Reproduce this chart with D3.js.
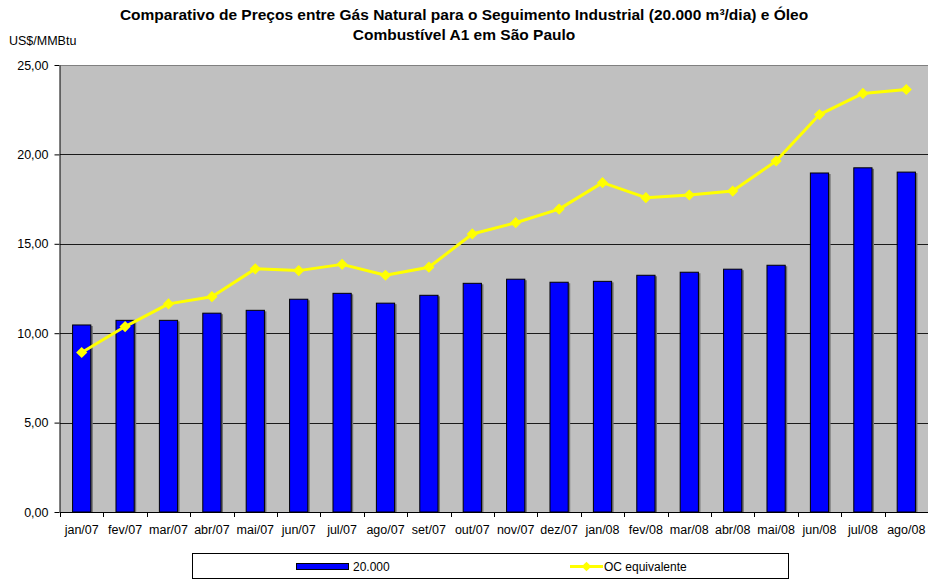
<!DOCTYPE html>
<html>
<head>
<meta charset="utf-8">
<script src="https://cdn.jsdelivr.net/npm/d3@7"></script>
<style>
  body { margin: 0; background: #fff; }
  svg { display: block; font-family: "Liberation Sans", Arial, sans-serif; }
</style>
</head>
<body>
<div id="chart"></div>
<script>
// dados
const months = ['jan/07', 'fev/07', 'mar/07', 'abr/07', 'mai/07', 'jun/07', 'jul/07', 'ago/07', 'set/07', 'out/07',
  'nov/07', 'dez/07', 'jan/08', 'fev/08', 'mar/08', 'abr/08', 'mai/08', 'jun/08', 'jul/08', 'ago/08']
const gas20000 = [10.46, 10.72, 10.72, 11.12, 11.28, 11.9, 12.23, 11.68, 12.12, 12.79,
  13.02, 12.85, 12.9, 13.24, 13.41, 13.58, 13.8, 18.96, 19.25, 19.01]
const ocEquivalente = [8.92, 10.37, 11.64, 12.04, 13.6, 13.5, 13.85, 13.24, 13.69, 15.55,
  16.18, 16.94, 18.42, 17.58, 17.73, 17.95, 19.63, 22.23, 23.41, 23.63]
const yTicks = [0, 5, 10, 15, 20, 25]

const width = 928, height = 581
const margin = { top: 65, right: 0, bottom: 69, left: 60 }
const FONT = '"Liberation Sans", Arial, sans-serif'

const svg = d3.select('#chart').append('svg')
  .attr('width', width)
  .attr('height', height)

const x = d3.scaleBand()
  .domain(months)
  .range([margin.left, width - margin.right])
  .paddingInner(0.58)
  .paddingOuter(0.29)

const y = d3.scaleLinear()
  .domain([0, 25])
  .range([height - margin.bottom, margin.top])

const fmt = v => d3.format('.2f')(v).replace('.', ',')

// fundo da área de plotagem
svg.append('rect')
  .attr('x', margin.left)
  .attr('y', y(25))
  .attr('width', width - margin.right - margin.left)
  .attr('height', y(0) - y(25))
  .attr('fill', '#c0c0c0')

// linhas de grade
svg.append('g')
  .selectAll('line')
  .data(yTicks.filter(d => d > 0))
  .join('line')
  .attr('x1', margin.left)
  .attr('x2', width - margin.right)
  .attr('y1', d => Math.round(y(d)) + 0.5)
  .attr('y2', d => Math.round(y(d)) + 0.5)
  .attr('stroke', d => d === 25 ? '#808080' : '#1a1a1a')
  .attr('stroke-width', 1)

// barras (com sombra)
const step = x.step()
const bars = svg.append('g')
bars.selectAll('rect.shadow')
  .data(months)
  .join('rect')
  .attr('class', 'shadow')
  .attr('x', (d, i) => x(d) + 2)
  .attr('y', (d, i) => y(gas20000[i]) + 1)
  .attr('width', x.bandwidth())
  .attr('height', (d, i) => y(0) - y(gas20000[i]) - 1)
  .attr('fill', '#707070')
bars.selectAll('rect.bar')
  .data(months)
  .join('rect')
  .attr('class', 'bar')
  .attr('x', (d, i) => x(d))
  .attr('y', (d, i) => y(gas20000[i]))
  .attr('width', x.bandwidth())
  .attr('height', (d, i) => y(0) - y(gas20000[i]))
  .attr('fill', '#0000ff')
  .attr('stroke', '#000')
  .attr('stroke-width', 1)

// linha OC equivalente
const cx = d => x(d) + x.bandwidth() / 2
const line = d3.line()
  .x((d, i) => cx(months[i]))
  .y(d => y(d))

svg.append('path')
  .datum(ocEquivalente)
  .attr('d', line)
  .attr('fill', 'none')
  .attr('stroke', '#ffff00')
  .attr('stroke-width', 3)
  .attr('stroke-linejoin', 'round')

svg.append('g')
  .selectAll('path')
  .data(ocEquivalente)
  .join('path')
  .attr('d', d3.symbol(d3.symbolDiamond2, 80))
  .attr('transform', (d, i) => `translate(${cx(months[i])},${y(d)})`)
  .attr('fill', '#ffff00')

// eixo Y
const yAxis = svg.append('g')
  .attr('transform', `translate(${margin.left - 0.5},0)`)
  .call(d3.axisLeft(y).tickValues(yTicks).tickFormat(fmt).tickSize(5).tickSizeOuter(0))
yAxis.select('.domain').attr('stroke', '#000')
yAxis.selectAll('.tick line').attr('stroke', '#000')
yAxis.selectAll('.tick text')
  .attr('x', -11)
  .attr('font-size', 12.5)
  .attr('font-family', FONT)
  .attr('fill', '#000')

// eixo X
const xTickPos = d3.range(months.length + 1).map(i => margin.left + i * step)
const xAxisG = svg.append('g')
xAxisG.append('line')
  .attr('x1', margin.left)
  .attr('x2', width - margin.right)
  .attr('y1', y(0) + 0.5)
  .attr('y2', y(0) + 0.5)
  .attr('stroke', '#000')
xAxisG.selectAll('line.tick')
  .data(xTickPos)
  .join('line')
  .attr('class', 'tick')
  .attr('x1', d => Math.round(d) + 0.5)
  .attr('x2', d => Math.round(d) + 0.5)
  .attr('y1', y(0))
  .attr('y2', y(0) + 5)
  .attr('stroke', '#000')
xAxisG.selectAll('text')
  .data(months)
  .join('text')
  .attr('x', d => cx(d))
  .attr('y', y(0) + 22)
  .attr('text-anchor', 'middle')
  .attr('font-size', 12.5)
  .attr('fill', '#000')
  .text(d => d)

// título
const title = svg.append('text')
  .attr('text-anchor', 'middle')
  .attr('font-size', 15.5)
  .attr('font-weight', 'bold')
  .attr('fill', '#000')
title.append('tspan').attr('x', 464).attr('y', 20)
  .text('Comparativo de Preços entre Gás Natural para o Seguimento Industrial (20.000 m³/dia) e Óleo')
title.append('tspan').attr('x', 464).attr('y', 40)
  .text('Combustível A1 em São Paulo')

svg.append('text')
  .attr('x', 9)
  .attr('y', 45)
  .attr('font-size', 12.5)
  .attr('fill', '#000')
  .text('US$/MMBtu')

// legenda
const legend = svg.append('g')
legend.append('rect')
  .attr('x', 192.5).attr('y', 553.5)
  .attr('width', 596).attr('height', 25)
  .attr('fill', '#fff')
  .attr('stroke', '#000')
legend.append('rect')
  .attr('x', 296.5).attr('y', 563.5)
  .attr('width', 52).attr('height', 6)
  .attr('fill', '#0000ff')
  .attr('stroke', '#000')
legend.append('text')
  .attr('x', 353).attr('y', 571)
  .attr('font-size', 12)
  .text('20.000')
legend.append('line')
  .attr('x1', 570).attr('x2', 603)
  .attr('y1', 566.5).attr('y2', 566.5)
  .attr('stroke', '#ffff00')
  .attr('stroke-width', 3)
legend.append('path')
  .attr('d', d3.symbol(d3.symbolDiamond2, 60))
  .attr('transform', 'translate(586.5,566.5)')
  .attr('fill', '#ffff00')
legend.append('text')
  .attr('x', 604).attr('y', 571)
  .attr('font-size', 12)
  .text('OC equivalente')
</script>
</body>
</html>
